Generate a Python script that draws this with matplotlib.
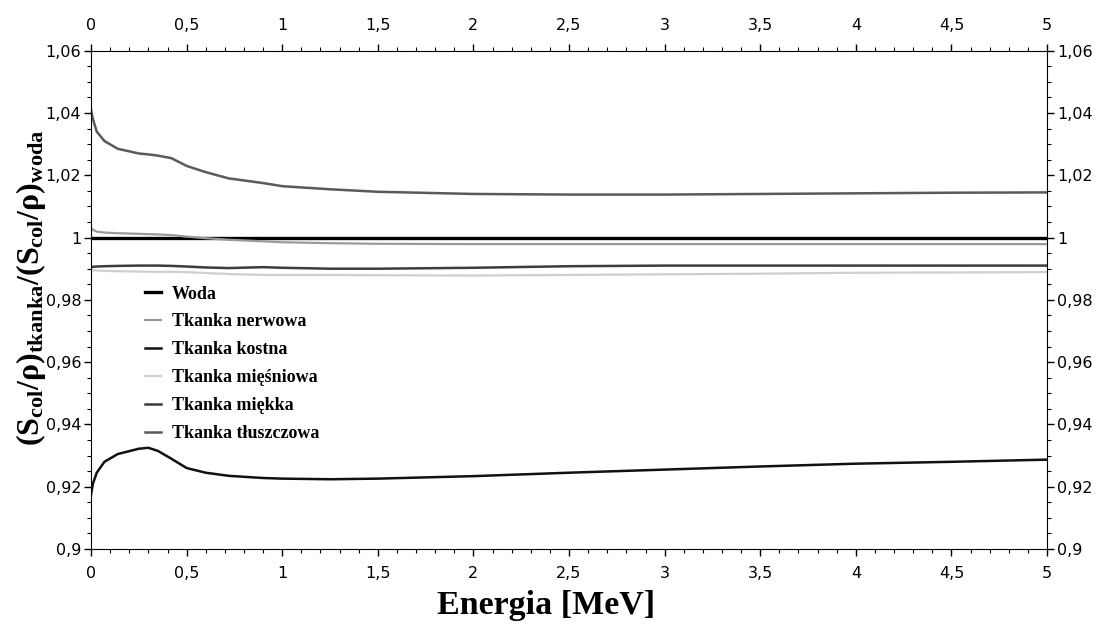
import matplotlib
matplotlib.use("Agg")
import matplotlib.pyplot as plt
from matplotlib.ticker import MultipleLocator, FuncFormatter

plt.rcParams['mathtext.fontset'] = 'custom'
plt.rcParams['mathtext.rm'] = 'Liberation Serif:bold'
plt.rcParams['mathtext.bf'] = 'Liberation Serif:bold'
plt.rcParams['mathtext.it'] = 'Liberation Serif:bold'

energy = [0, 0.01, 0.03, 0.07, 0.14, 0.25, 0.3, 0.35, 0.42, 0.5, 0.6, 0.72,
          0.9, 1.0, 1.25, 1.5, 2.0, 2.5, 3.0, 3.5, 4.0, 4.5, 5.0]

woda = [1.0] * len(energy)
nerwowa = [1.003, 1.0025, 1.0019, 1.0016, 1.0014, 1.0012, 1.0011, 1.001, 1.0008,
           1.0003, 0.9998, 0.9993, 0.9988, 0.9985, 0.9982, 0.998, 0.9979, 0.9979,
           0.9979, 0.9979, 0.9979, 0.9979, 0.9979]
kostna = [0.9175, 0.921, 0.9245, 0.928, 0.9305, 0.9322, 0.9325, 0.9315, 0.929,
          0.926, 0.9245, 0.9235, 0.9228, 0.9226, 0.9224, 0.9226, 0.9234, 0.9245,
          0.9255, 0.9265, 0.9274, 0.928, 0.9287]
miesniowa = [0.9895, 0.9895, 0.9894, 0.9893, 0.9892, 0.9891, 0.989, 0.989, 0.989,
             0.9889, 0.9886, 0.9883, 0.988, 0.988, 0.988, 0.9879, 0.9878, 0.988,
             0.9882, 0.9884, 0.9887, 0.9888, 0.9889]
miekka = [0.9905, 0.9906, 0.9907, 0.9908, 0.9909, 0.991, 0.991, 0.991, 0.9909,
          0.9907, 0.9904, 0.9902, 0.9905, 0.9903, 0.99, 0.99, 0.9903, 0.9908,
          0.991, 0.991, 0.991, 0.991, 0.991]
tluszczowa = [1.041, 1.038, 1.034, 1.031, 1.0285, 1.027, 1.0267, 1.0263, 1.0255,
              1.023, 1.021, 1.019, 1.0175, 1.0165, 1.0155, 1.0147, 1.014, 1.0138,
              1.0138, 1.014, 1.0142, 1.0144, 1.0145]

labels = ["Woda", "Tkanka nerwowa", "Tkanka kostna", "Tkanka mięśniowa",
          "Tkanka miękka", "Tkanka tłuszczowa"]
series = [woda, nerwowa, kostna, miesniowa, miekka, tluszczowa]
colors = ["#000000", "#9a9a9a", "#111111", "#cfcfcf", "#3c3c3c", "#5a5a5a"]
widths = [2.4, 1.6, 1.8, 1.6, 1.8, 1.8]

fig = plt.figure(figsize=(11.06, 6.32), dpi=100)
ax = fig.add_axes([0.0823, 0.1313, 0.8644, 0.7885])

for y, lab, c, w in zip(series, labels, colors, widths):
    ax.plot(energy, y, color=c, lw=w, label=lab)

ax.set_xlim(0, 5)
ax.set_ylim(0.9, 1.06)
ax.xaxis.set_major_locator(MultipleLocator(0.5))
ax.xaxis.set_minor_locator(MultipleLocator(0.1))
ax.yaxis.set_major_locator(MultipleLocator(0.02))
ax.yaxis.set_minor_locator(MultipleLocator(0.005))


def fmt(v, pos):
    s = ("%.2f" % v).rstrip('0').rstrip('.')
    return s.replace('.', ',')


ax.xaxis.set_major_formatter(FuncFormatter(fmt))
ax.yaxis.set_major_formatter(FuncFormatter(fmt))
ax.tick_params(which='both', direction='out', top=True, right=True,
               labeltop=True, labelright=True, labelsize=11.5, pad=2)
ax.tick_params(which='major', length=5, width=1)
ax.tick_params(which='minor', length=3, width=0.8)
ax.tick_params(axis='x', which='major', pad=7.5)

ax.set_xlabel("Energia [MeV]", family="Liberation Serif", weight="bold",
              fontsize=24.5)
ax.xaxis.set_label_coords(0.476, -0.082)
ax.set_ylabel(r"$(S_{col}/\rho)_{tkanka}/(S_{col}/\rho)_{woda}$",
              fontsize=23)
ax.yaxis.set_label_coords(-0.045, 0.525)

leg = ax.legend(loc='upper left', bbox_to_anchor=(0.131, 0.548),
                bbox_transform=fig.transFigure, frameon=False,
                prop={'family': 'Liberation Serif', 'weight': 'bold', 'size': 13},
                handlelength=0.9, handletextpad=0.6, labelspacing=0.6,
                borderaxespad=0, borderpad=0)

fig.savefig("out.png", dpi=100)
